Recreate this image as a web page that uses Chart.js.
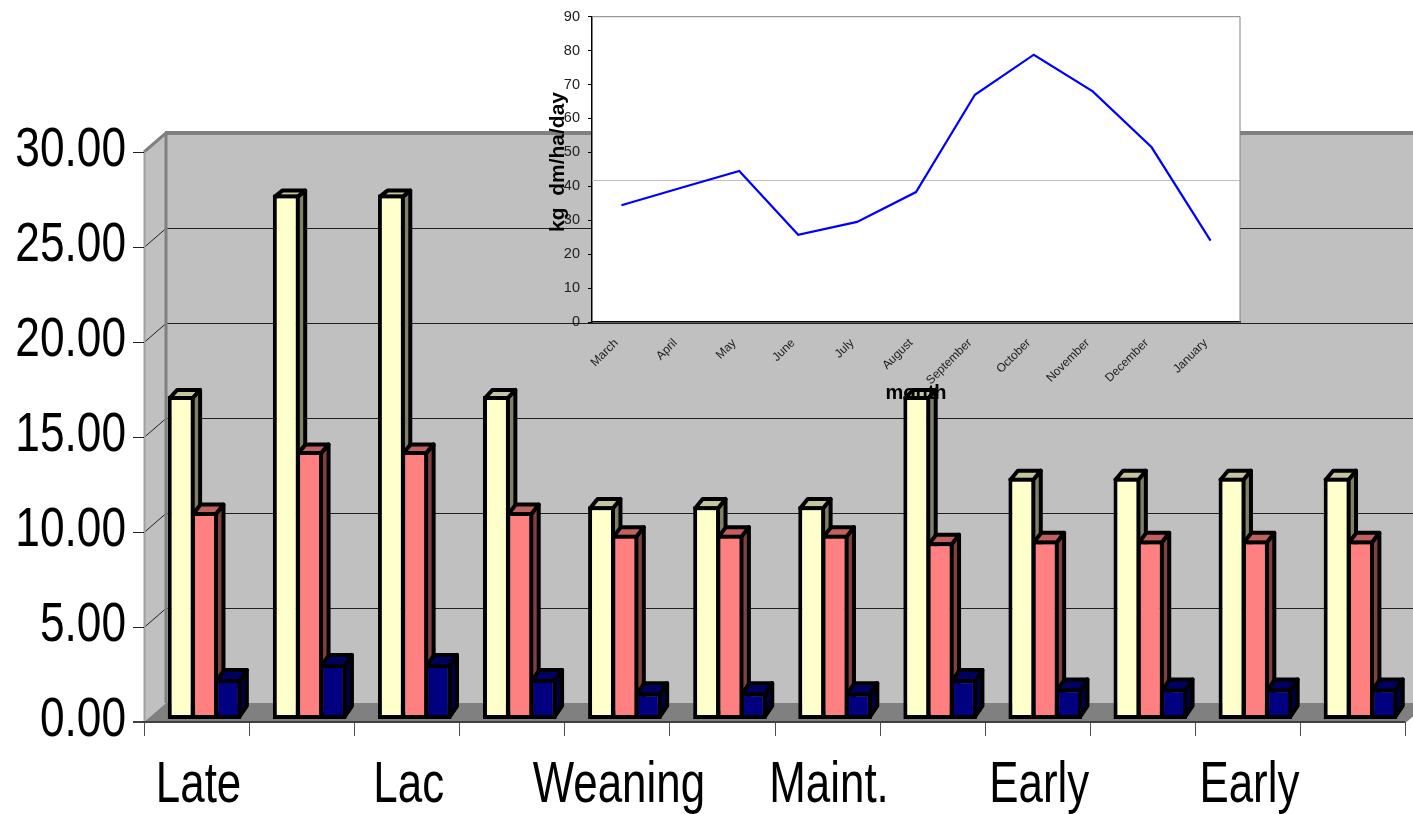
<!DOCTYPE html>
<html>
<head>
<meta charset="utf-8">
<title>Chart</title>
<script src="https://cdn.jsdelivr.net/npm/chart.js@4"></script>
<style>
    html, body { margin: 0; padding: 0; background: #fff; overflow: hidden; }
    canvas { position: absolute; left: 0; top: 0; }
</style>
</head>
<body>
<canvas id="main_chart" width="1413" height="814"></canvas>
<canvas id="inset_chart" width="1413" height="814"></canvas>
<script>
    const categories = ['Late', '', 'Lac', '', 'Weaning', '', 'Maint.', '', 'Early', '', 'Early', ''];
    const tallBars = [17, 27.6, 27.6, 17, 11.2, 11.2, 11.2, 17, 12.7, 12.7, 12.7, 12.7];
    const midBars = [10.9, 14.1, 14.1, 10.9, 9.7, 9.7, 9.7, 9.3, 9.4, 9.4, 9.4, 9.4];
    const lowBars = [2.1, 2.9, 2.9, 2.1, 1.4, 1.4, 1.4, 2.1, 1.6, 1.6, 1.6, 1.6];

    const months = ['March', 'April', 'May', 'June', 'July', 'August', 'September',
        'October', 'November', 'December', 'January'];
    const growth = [34.4, 39.5, 44.5, 25.7, 29.5, 38.3, 67, 78.8, 68, 51.5, 24];
    const strayLine = 41.6;

    // faces of the 3d look, offsets are from the plane chart.js draws the bars on
    const faceColors = [
        { side: '#808066', top: '#C4C49E' },
        { side: '#804040', top: '#C06060' },
        { side: '#000040', top: '#000060' },
    ];

    function face(ctx, points, fill, stroke, width) {
        ctx.beginPath();
        points.forEach(function (p, i) {
            if (i === 0) { ctx.moveTo(p[0], p[1]); } else { ctx.lineTo(p[0], p[1]); }
        });
        ctx.closePath();
        ctx.fillStyle = fill;
        ctx.fill();
        if (stroke) {
            ctx.strokeStyle = stroke;
            ctx.lineWidth = width;
            ctx.lineJoin = 'round';
            ctx.stroke();
        }
    }

    function line(ctx, x1, y1, x2, y2, color, width) {
        ctx.beginPath();
        ctx.moveTo(x1, y1);
        ctx.lineTo(x2, y2);
        ctx.strokeStyle = color;
        ctx.lineWidth = width;
        ctx.stroke();
    }

    // the original labels are a squeezed arial, no narrow face is installed so scale the canvas
    function squeezedText(ctx, text, x, y, size, align, baseline, ratio) {
        ctx.save();
        ctx.translate(x, y);
        ctx.scale(ratio, 1);
        ctx.font = size + 'px "Liberation Sans"';
        ctx.fillStyle = '#000';
        ctx.textAlign = align;
        ctx.textBaseline = baseline;
        ctx.fillText(text, 0, 0);
        ctx.restore();
    }

    const wallsPlugin = {
        id: 'walls',
        beforeDatasetsDraw: function (chart) {
            const ctx = chart.ctx;
            const y = chart.scales.y;
            const frontDx = -8, frontDy = 3, backDx = 14, backDy = -16;
            const left = chart.chartArea.left, right = chart.chartArea.right;
            const top = y.getPixelForValue(30), base = y.getPixelForValue(0);

            ctx.save();
            face(ctx, [[left + backDx, top + backDy], [right + backDx, top + backDy],
                [right + backDx, base + backDy], [left + backDx, base + backDy]], '#C0C0C0');
            face(ctx, [[left + frontDx, top + frontDy], [left + backDx, top + backDy],
                [left + backDx, base + backDy], [left + frontDx, base + frontDy]], '#C0C0C0');
            face(ctx, [[left + frontDx, base + frontDy], [left + backDx, base + backDy],
                [right + backDx, base + backDy], [right + frontDx, base + frontDy]], '#808080');

            [5, 10, 15, 20, 25].forEach(function (v) {
                const py = Math.round(y.getPixelForValue(v)) + 0.5;
                line(ctx, left + frontDx, py + frontDy, left + backDx, py + backDy, '#202020', 1);
                line(ctx, left + backDx, py + backDy, right + backDx, py + backDy, '#202020', 1);
            });

            line(ctx, left + backDx - 1, top + backDy, right + backDx, top + backDy, '#808080', 4);
            line(ctx, left + backDx, top + backDy, left + backDx, base + backDy, '#808080', 3);
            line(ctx, left + frontDx, top + frontDy, left + backDx, top + backDy, '#808080', 3);
            line(ctx, left + frontDx + 0.5, top + frontDy, left + frontDx + 0.5, base + frontDy, '#A0A0A0', 2);
            line(ctx, right + frontDx, base + frontDy, right + backDx, base + backDy, '#808080', 2);

            // tick marks on the front edge
            y.ticks.forEach(function (t) {
                const py = Math.round(y.getPixelForValue(t.value) + frontDy) + 0.5;
                line(ctx, left + frontDx - 11, py, left + frontDx, py, '#202020', 1);
            });
            const step = (right - left) / categories.length;
            for (let i = 0; i <= categories.length; i++) {
                const px = Math.round(left + frontDx + step * i) + 0.5;
                line(ctx, px, base + frontDy, px, base + frontDy + 14, '#505050', 1);
            }
            line(ctx, left + frontDx - 11, base + frontDy, right + frontDx, base + frontDy, '#404040', 2);

            // side and top of every bar, chart.js paints the front faces over them
            const barSets = chart.data.datasets.map(function (d, i) {
                return chart.getDatasetMeta(i).data;
            });
            categories.forEach(function (c, i) {
                barSets.forEach(function (bars, s) {
                    const b = bars[i];
                    const value = chart.data.datasets[s].data[i];
                    const dx = 7.5, dy = -(11.5 - value * 0.2);
                    const l = b.x - b.width / 2 + 2, r = b.x + b.width / 2 - 2;
                    const t = b.y + 2, bot = b.base - 2;
                    face(ctx, [[r, t], [r + dx, t + dy], [r + dx, bot + dy], [r, bot]],
                        faceColors[s].side, '#000', 4);
                    face(ctx, [[l, t], [l + dx, t + dy], [r + dx, t + dy], [r, t]],
                        faceColors[s].top, '#000', 4);
                });
            });
            ctx.restore();
        },
        afterDraw: function (chart) {
            const ctx = chart.ctx;
            const x = chart.scales.x;
            const y = chart.scales.y;
            y.ticks.forEach(function (t) {
                squeezedText(ctx, t.label, 126, y.getPixelForValue(t.value) + 2, 56, 'right', 'middle', 0.79);
            });
            x.ticks.forEach(function (t, i) {
                squeezedText(ctx, t.label, x.getPixelForTick(i) - 6, 802, 57, 'center', 'alphabetic', 0.77);
            });
        }
    };

    const insetPlugin = {
        id: 'inset',
        beforeDraw: function (chart) {
            const a = chart.chartArea;
            chart.ctx.fillStyle = '#fff';
            chart.ctx.fillRect(a.left, a.top, a.right - a.left, a.bottom - a.top);
        },
        beforeDatasetsDraw: function (chart) {
            const ctx = chart.ctx;
            const a = chart.chartArea;
            const py = Math.round(chart.scales.y.getPixelForValue(strayLine)) - 0.5;
            ctx.save();
            line(ctx, a.left, py, a.right, py, '#BFBFBF', 1);
            line(ctx, a.left, a.top, a.right, a.top, '#808080', 1);
            line(ctx, a.right, a.top, a.right, a.bottom, '#808080', 1);
            ctx.restore();
        },
        afterDraw: function (chart) {
            // the y title sits above the axis centre in the original
            const ctx = chart.ctx;
            ctx.save();
            ctx.translate(558, 162);
            ctx.rotate(-Math.PI / 2);
            ctx.font = 'bold 21px "Liberation Sans"';
            ctx.fillStyle = '#000';
            ctx.textAlign = 'center';
            ctx.textBaseline = 'middle';
            ctx.fillText('kg  dm/ha/day', 0, 0);
            ctx.restore();
        }
    };

    new Chart(document.getElementById('main_chart').getContext('2d'), {
        type: 'bar',
        plugins: [wallsPlugin],
        data: {
            labels: categories,
            datasets: [
                { data: tallBars, backgroundColor: '#FFFFCC' },
                { data: midBars, backgroundColor: '#FF8080' },
                { data: lowBars, backgroundColor: '#000080' },
            ].map(function (d) {
                return Object.assign(d, { borderColor: '#000', borderWidth: 4, borderSkipped: false });
            })
        },
        options: {
            responsive: false,
            animation: false,
            devicePixelRatio: 1,
            categoryPercentage: 0.667,
            barPercentage: 1.15,
            layout: { padding: { left: 0, right: 0, top: 149, bottom: 0 } },
            plugins: { legend: { display: false }, tooltip: { enabled: false } },
            scales: {
                x: {
                    afterFit: function (s) { s.height = 95; },
                    grid: { display: false },
                    border: { display: false },
                    ticks: { display: false, autoSkip: false }
                },
                y: {
                    min: 0, max: 30,
                    afterFit: function (s) { s.width = 152; },
                    grid: { display: false },
                    border: { display: false },
                    ticks: {
                        display: false, stepSize: 5,
                        callback: function (v) { return v.toFixed(2); }
                    }
                }
            }
        }
    });

    new Chart(document.getElementById('inset_chart').getContext('2d'), {
        type: 'line',
        plugins: [insetPlugin],
        data: {
            labels: months,
            datasets: [{
                data: growth, borderColor: '#0000FF', borderWidth: 2.2,
                pointRadius: 0, tension: 0, fill: false
            }]
        },
        options: {
            responsive: false,
            animation: false,
            devicePixelRatio: 1,
            layout: { padding: { left: 546, right: 173, top: 15, bottom: 409 } },
            plugins: { legend: { display: false }, tooltip: { enabled: false } },
            scales: {
                x: {
                    afterFit: function (s) { s.height = 83; },
                    offset: true,
                    grid: { display: false, drawOnChartArea: false, offset: true, tickLength: 4, tickColor: '#000' },
                    border: { display: true, color: '#000', width: 1.5 },
                    ticks: {
                        autoSkip: false, maxRotation: 45, minRotation: 45, padding: 10, labelOffset: -5,
                        color: '#202020', font: { family: '"Liberation Sans"', size: 12 }
                    },
                    title: {
                        display: true, text: 'month', color: '#000', padding: 0,
                        font: { family: '"Liberation Sans"', size: 20, weight: 'bold' }
                    }
                },
                y: {
                    min: 0, max: 90,
                    afterFit: function (s) { s.width = 46; },
                    grid: { drawOnChartArea: false, tickLength: 4, tickColor: '#000' },
                    border: { display: true, color: '#000', width: 1.5 },
                    ticks: {
                        stepSize: 10, padding: 8, color: '#202020',
                        font: { family: '"Liberation Sans"', size: 14.5 }
                    }
                }
            }
        }
    });
</script>
</body>
</html>
